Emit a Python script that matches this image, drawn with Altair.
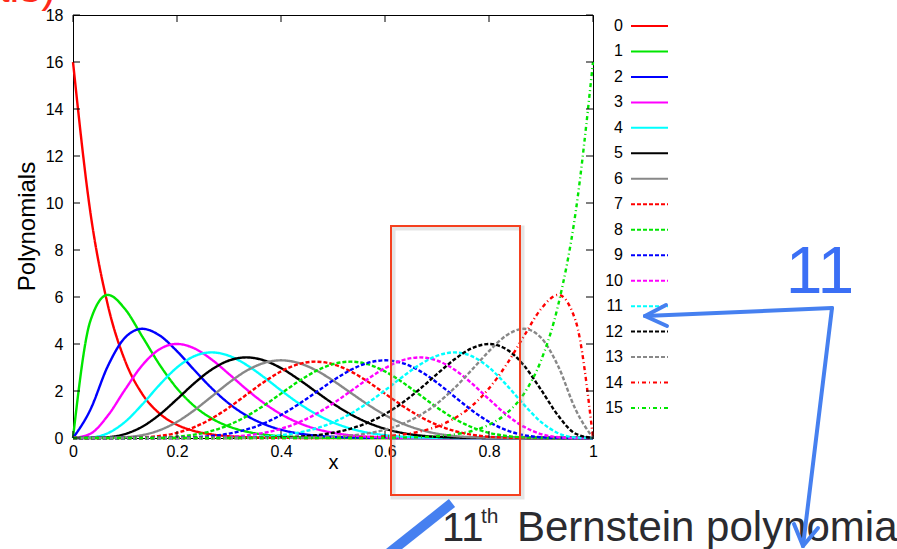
import altair as alt
import pandas as pd

FONT = "Liberation Sans"

# x grid of the sampled curves
X = [0, 0.0333, 0.0667, 0.1, 0.1333, 0.1667, 0.2, 0.2333, 0.2667, 0.3, 0.3333,
     0.3667, 0.4, 0.4333, 0.4667, 0.5, 0.5333, 0.5667, 0.6, 0.6333, 0.6667,
     0.7, 0.7333, 0.7667, 0.8, 0.8333, 0.8667, 0.9, 0.9333, 0.9667, 1.0]

B0 = [16, 9.621, 5.684, 3.294, 1.870, 1.038, 0.563, 0.297, 0.153, 0.076, 0.037, 0.017, 0.008, 0.003, 0.001, 0,
      0, 0, 0, 0, 0, 0, 0, 0, 0, 0, 0, 0, 0, 0, 0]
B1 = [0, 4.977, 6.090, 5.490, 4.316, 3.115, 2.111, 1.357, 0.833, 0.488, 0.274, 0.147, 0.075, 0.037, 0.017, 0.007,
      0.003, 0.001, 0, 0, 0, 0, 0, 0, 0, 0, 0, 0, 0, 0, 0]
B2 = [0, 1.201, 3.045, 4.270, 4.648, 4.362, 3.694, 2.892, 2.119, 1.465, 0.959, 0.596, 0.351, 0.196, 0.103, 0.051,
      0.024, 0.010, 0.004, 0.001, 0, 0, 0, 0, 0, 0, 0, 0, 0, 0, 0]
B3 = [0, 0.179, 0.943, 2.056, 3.099, 3.780, 4.002, 3.814, 3.339, 2.721, 2.078, 1.495, 1.014, 0.649, 0.392, 0.222,
      0.118, 0.058, 0.026, 0.011, 0.004, 0.001, 0, 0, 0, 0, 0, 0, 0, 0, 0]
B4 = [0, 0.019, 0.202, 0.685, 1.430, 2.268, 3.002, 3.482, 3.643, 3.498, 3.117, 2.596, 2.028, 1.490, 1.029, 0.667,
      0.404, 0.228, 0.119, 0.057, 0.024, 0.009, 0.003, 0.001, 0, 0, 0, 0, 0, 0, 0]
B5 = [0, 0.001, 0.032, 0.168, 0.484, 0.998, 1.651, 2.331, 2.914, 3.298, 3.429, 3.306, 2.975, 2.506, 1.980, 1.466,
      1.016, 0.655, 0.392, 0.215, 0.107, 0.048, 0.019, 0.006, 0.002, 0, 0, 0, 0, 0, 0]
B6 = [0, 0, 0.004, 0.031, 0.124, 0.333, 0.688, 1.183, 1.766, 2.356, 2.857, 3.190, 3.306, 3.195, 2.888, 2.444,
      1.935, 1.429, 0.979, 0.619, 0.357, 0.185, 0.085, 0.033, 0.011, 0.003, 0, 0, 0, 0, 0]
B7 = [0, 0, 0, 0.004, 0.025, 0.086, 0.221, 0.463, 0.826, 1.298, 1.837, 2.375, 2.833, 3.141, 3.249, 3.142,
      2.843, 2.402, 1.889, 1.375, 0.918, 0.556, 0.300, 0.141, 0.055, 0.017, 0.004, 0, 0, 0, 0]
B8 = [0, 0, 0, 0, 0.004, 0.017, 0.055, 0.141, 0.300, 0.556, 0.918, 1.375, 1.889, 2.402, 2.843, 3.142,
      3.249, 3.141, 2.833, 2.375, 1.837, 1.298, 0.826, 0.463, 0.221, 0.086, 0.025, 0.004, 0, 0, 0]
B9 = [0, 0, 0, 0, 0, 0.003, 0.011, 0.033, 0.085, 0.185, 0.357, 0.619, 0.979, 1.429, 1.935, 2.444,
      2.888, 3.195, 3.306, 3.190, 2.857, 2.356, 1.766, 1.183, 0.688, 0.333, 0.124, 0.031, 0.004, 0, 0]
B10 = [0, 0, 0, 0, 0, 0, 0.002, 0.006, 0.019, 0.048, 0.107, 0.215, 0.392, 0.655, 1.016, 1.466,
       1.980, 2.506, 2.975, 3.306, 3.429, 3.298, 2.914, 2.331, 1.651, 0.998, 0.484, 0.168, 0.032, 0.001, 0]
B11 = [0, 0, 0, 0, 0, 0, 0, 0.001, 0.003, 0.009, 0.024, 0.057, 0.119, 0.228, 0.404, 0.667,
       1.029, 1.490, 2.028, 2.596, 3.117, 3.498, 3.643, 3.482, 3.002, 2.268, 1.430, 0.685, 0.202, 0.019, 0]
B12 = [0, 0, 0, 0, 0, 0, 0, 0, 0, 0.001, 0.004, 0.011, 0.026, 0.058, 0.118, 0.222,
       0.392, 0.649, 1.014, 1.495, 2.078, 2.721, 3.339, 3.814, 4.002, 3.780, 3.099, 2.056, 0.943, 0.179, 0]
B13 = [0, 0, 0, 0, 0, 0, 0, 0, 0, 0, 0, 0.001, 0.004, 0.010, 0.024, 0.051,
       0.103, 0.196, 0.351, 0.596, 0.959, 1.465, 2.119, 2.892, 3.694, 4.362, 4.648, 4.270, 3.045, 1.201, 0]
B14 = [0, 0, 0, 0, 0, 0, 0, 0, 0, 0, 0, 0, 0, 0.001, 0.003, 0.007,
       0.017, 0.037, 0.075, 0.147, 0.274, 0.488, 0.833, 1.357, 2.111, 3.115, 4.316, 5.490, 6.090, 4.977, 0]
B15 = [0, 0, 0, 0, 0, 0, 0, 0, 0, 0, 0, 0, 0, 0, 0, 0,
       0.001, 0.003, 0.008, 0.017, 0.037, 0.076, 0.153, 0.297, 0.563, 1.038, 1.870, 3.294, 5.684, 9.621, 16]

SERIES = [B0, B1, B2, B3, B4, B5, B6, B7, B8, B9, B10, B11, B12, B13, B14, B15]
NAMES = ["0", "1", "2", "3", "4", "5", "6", "7", "8", "9", "10", "11", "12", "13", "14", "15"]
COLORS = ["#ff0000", "#00e600", "#0000ff", "#ff00ff", "#00ffff", "#000000", "#888888",
          "#ff0000", "#00e600", "#0000ff", "#ff00ff", "#00ffff", "#000000", "#888888",
          "#ff0000", "#00e600"]
DASHES = [[1, 0]] * 7 + [[4, 2]] * 7 + [[4, 3, 1, 3]] * 2

Y_TICKS = [0, 2, 4, 6, 8, 10, 12, 14, 16, 18]
X_TICKS = [0, 0.2, 0.4, 0.6, 0.8, 1]

rows = []
for i, (name, vals) in enumerate(zip(NAMES, SERIES)):
    for xv, yv in zip(X, vals):
        rows.append({"x": xv, "y": yv, "s": name, "o": i})
df = pd.DataFrame(rows)

W, H = 520, 423
color = alt.Color("s:N", scale=alt.Scale(domain=NAMES, range=COLORS), legend=None)
dash = alt.StrokeDash("s:N", scale=alt.Scale(domain=NAMES, range=DASHES), legend=None)
xscale = alt.Scale(domain=[0, 1], nice=False, zero=False)
yscale = alt.Scale(domain=[0, 18], nice=False)

lines = alt.Chart(df).mark_line(strokeWidth=2.4, interpolate="monotone").encode(
    x=alt.X("x:Q", scale=xscale,
            axis=alt.Axis(values=X_TICKS, format="~g", ticks=False, grid=False, labelFlush=False,
                          labelPadding=5, labelFontSize=16, labelFont=FONT, labelColor="black",
                          domainColor="black", title="x", titleFont=FONT, titleFontSize=20,
                          titleFontWeight="normal", titleY=30, titleBaseline="alphabetic",
                          titleColor="black")),
    y=alt.Y("y:Q", scale=yscale,
            axis=alt.Axis(values=Y_TICKS, ticks=False, grid=False, labelPadding=10,
                          labelFontSize=16, labelFont=FONT, labelColor="black", domainColor="black",
                          title="Polynomials", titleFont=FONT, titleFontSize=24,
                          titleFontWeight="normal", titleX=-46, titleY=211, titleAngle=270,
                          titleAlign="center", titleBaseline="middle", titleColor="black")),
    color=color,
    strokeDash=dash,
    detail="s:N",
    order=alt.Order("x:Q"),
)

# inward tick marks on all four sides
ytk = pd.DataFrame({"t": Y_TICKS})
xtk = pd.DataFrame({"x": X_TICKS})
tick_y_scale = alt.Y("t:Q", scale=yscale, axis=None)
ticks_left = alt.Chart(ytk).mark_rule(color="black", strokeWidth=1).encode(
    y=tick_y_scale, x=alt.value(0), x2=alt.value(7))
ticks_right = alt.Chart(ytk).mark_rule(color="black", strokeWidth=1).encode(
    y=tick_y_scale, x=alt.value(W), x2=alt.value(W - 7))
ticks_bottom = alt.Chart(xtk).mark_rule(color="black", strokeWidth=1).encode(
    x=alt.X("x:Q", scale=xscale), y=alt.value(H), y2=alt.value(H - 7))
ticks_top = alt.Chart(xtk).mark_rule(color="black", strokeWidth=1).encode(
    x=alt.X("x:Q", scale=xscale), y=alt.value(0), y2=alt.value(7))

# legend (labels left, line samples right)
leg = pd.DataFrame({"s": NAMES})
leg_y = alt.Y("s:N", scale=alt.Scale(domain=NAMES, type="point", range=[11, 393], padding=0), axis=None)
leg_lines = alt.Chart(leg).mark_rule(strokeWidth=2).encode(
    y=leg_y, x=alt.value(558), x2=alt.value(595), color=color, strokeDash=dash)
leg_text = alt.Chart(leg).mark_text(align="right", baseline="middle", fontSize=16, font=FONT,
                                    color="black").encode(
    y=leg_y, x=alt.value(550), text="s:N")

one = pd.DataFrame({"d": [0]})


def seg(x1, y1, x2, y2, col, w, cap="round", op=1.0):
    return alt.Chart(one).mark_rule(color=col, strokeWidth=w, strokeCap=cap, opacity=op).encode(
        x=alt.value(x1), y=alt.value(y1), x2=alt.value(x2), y2=alt.value(y2))


def txt(s, x, y, size, col, align="left"):
    return alt.Chart(one).mark_text(text=s, align=align, baseline="alphabetic", fontSize=size,
                                    font=FONT, color=col).encode(x=alt.value(x), y=alt.value(y))


BLUE = "#4680f0"
RED = "#f5401f"

shadow = alt.Chart(one).mark_rect(filled=False, stroke="#999999", strokeWidth=5, opacity=0.25).encode(
    x=alt.value(320), x2=alt.value(449), y=alt.value(213), y2=alt.value(482))
box = alt.Chart(one).mark_rect(filled=False, stroke=RED, strokeWidth=2).encode(
    x=alt.value(318), x2=alt.value(447), y=alt.value(211), y2=alt.value(480))

bar = seg(316, 538, 379, 488, BLUE, 10, cap="butt")
red_top = txt("ials)", -17, -13, 44, "#ff2a1a", align="right")
big11 = txt("11", 747, 278, 66, "#3b6ff5", align="center")
t11 = txt("11", 369, 526, 40, "#2b2b30")
tth = txt("th", 408, 508, 21, "#2b2b30")
tbern = txt("Bernstein polynomials", 444, 526, 42, "#2b2b30")

arrows = [
    seg(759, 293, 572, 301, BLUE, 4),
    seg(572, 301, 593, 290, BLUE, 4),
    seg(572, 301, 594, 311, BLUE, 4),
    seg(759, 293, 730, 531, BLUE, 4),
    seg(730, 531, 721, 509, BLUE, 4),
    seg(730, 531, 745, 513, BLUE, 4),
]

chart = alt.layer(
    lines, ticks_left, ticks_right, ticks_bottom, ticks_top,
    leg_lines, leg_text,
    shadow, box, bar, red_top, big11, t11, tth, tbern, *arrows
).resolve_scale(y="independent").properties(
    width=W, height=H,
    autosize=alt.AutoSizeParams(type="none"),
    padding={"left": 73, "top": 15, "right": 304, "bottom": 111},
).configure_view(stroke="black", strokeWidth=1)

chart.save("out.html", embed_options={"renderer": "svg", "actions": False})
